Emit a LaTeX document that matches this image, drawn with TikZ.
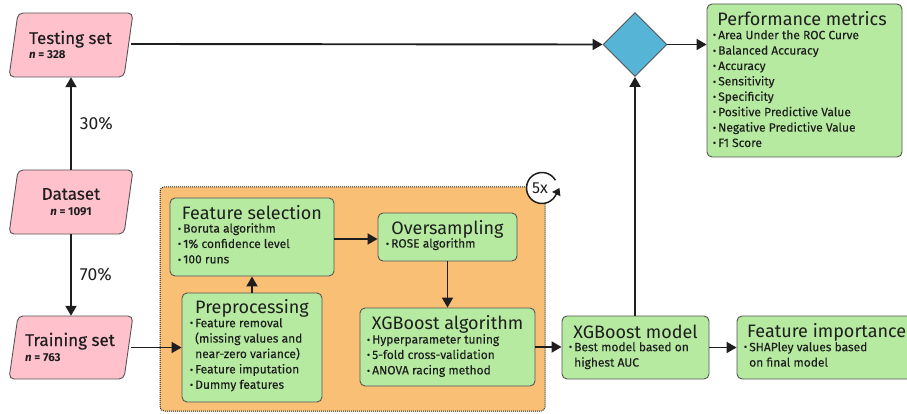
\documentclass[tikz,border=0pt]{standalone}
\usepackage{fontspec}
\setmainfont{Fira Sans}
\newfontfamily\semib[FakeBold=0.4]{Fira Sans}
\newfontfamily\bodyf[FakeBold=0.1]{Fira Sans}
\newfontfamily\djv{DejaVu Sans}
\usetikzlibrary{arrows.meta,shapes.geometric}
\definecolor{pinkfill}{RGB}{255,193,204}
\definecolor{greenfill}{RGB}{181,234,160}
\definecolor{orangefill}{RGB}{249,192,117}
\definecolor{bluefill}{RGB}{86,180,214}
\definecolor{edge}{RGB}{85,85,85}
\definecolor{ink}{RGB}{30,30,30}
\newcommand\bl{{\djv\fontsize{8.5}{8.5}\selectfont\raisebox{0.3pt}{•}}\kern1pt}
\newcommand\ind{\hphantom{\bl}}
\tikzset{
  gbox/.style={draw=edge, line width=0.9pt, fill=greenfill, rounded corners=5pt, inner sep=0pt},
  hole/.style={inner sep=0pt},
  titletext/.style={font=\fontsize{18}{18}\selectfont, inner sep=0pt, text=ink},
  bultext/.style={font=\bodyf\fontsize{12}{15.4}\selectfont, inner sep=0pt, anchor=north west, align=left, text=ink},
  pinktitle/.style={font=\semib\fontsize{17}{17}\selectfont, inner sep=0pt, text=ink},
  ntext/.style={font=\bfseries\fontsize{11.5}{11.5}\selectfont, inner sep=0pt, text=ink},
  pct/.style={font=\fontsize{17.5}{17.5}\selectfont, inner sep=0pt, text=ink},
  conn/.style={draw=ink, line width=1.9pt},
  arr/.style={conn, -{Triangle[length=10pt,width=11pt]}},
  pshape/.style={draw=edge, line width=0.9pt, fill=pinkfill, rounded corners=5pt},
}
\begin{document}
\begin{tikzpicture}[x=1pt,y=-1pt]
\useasboundingbox (0,0) rectangle (907,414);

% orange region
\node[draw=ink, densely dotted, line width=1pt, fill=orangefill, rounded corners=4pt,
      minimum width=385pt, minimum height=224pt, inner sep=0pt] (loop) at (352.5,299) {};
% 5x icon
\coordinate (rc) at (542,188);
\fill[white] (rc) circle[radius=15.5pt];
\draw[ink, line width=1.5pt] ([shift={(30:15.5pt)}]rc) arc[start angle=30,end angle=333,radius=15.5pt] coordinate (arcend);
\draw[ink, line width=1.5pt, -{Triangle[length=7pt,width=9pt]}] (arcend) -- ++(0:0pt) -- ([shift={(63:8pt)}]arcend);
\node[pct, font=\fontsize{16}{16}\selectfont] (five) at (540,188) {5x};

% pink parallelograms
\node[hole, minimum width=124pt, minimum height=64pt] (test) at (71,45) {};
\draw[pshape] (18,13) -- (133,13) -- (124,77) -- (9,77) -- cycle;
\node[pinktitle, anchor=base west] (testt) at (29,44) {Testing set};
\node[ntext, anchor=base west] (testn) at (29,59) {\textit{n} = 328};

\node[hole, minimum width=124pt, minimum height=64pt] (data) at (71,202) {};
\draw[pshape] (18,170) -- (133,170) -- (124,234) -- (9,234) -- cycle;
\node[pinktitle] (datat) at (71,194) {Dataset};
\node[ntext] (datan) at (71,212) {\textit{n} = 1091};

\node[hole, minimum width=124pt, minimum height=63pt] (train) at (71,347.5) {};
\draw[pshape] (18,316) -- (133,316) -- (124,379) -- (9,379) -- cycle;
\node[pinktitle, anchor=base west] (traint) at (25,346) {Training set};
\node[ntext, anchor=base west] (trainn) at (25,361) {\textit{n} = 763};

% green boxes
\node[gbox, minimum width=164pt, minimum height=78pt] (fs) at (252,237) {};
\node[titletext] (fst) at (252,213) {Feature selection};
\node[bultext] (fsb) at (177,223) {\bl Boruta algorithm\\\bl 1\% confidence level\\\bl 100 runs};

\node[gbox, minimum width=140pt, minimum height=109pt] (pre) at (252,347.5) {};
\node[titletext] (pret) at (252,308) {Preprocessing};
\node[bultext] (preb) at (189,318) {\bl Feature removal\\\ind(missing values and\\\ind near-zero variance)\\\bl Feature imputation\\\bl Dummy features};

\node[gbox, minimum width=139pt, minimum height=48pt] (over) at (447.5,237) {};
\node[titletext] (overt) at (447.5,229) {Oversampling};
\node[bultext] (overb) at (385,238) {\bl ROSE algorithm};

\node[gbox, minimum width=175pt, minimum height=78pt] (xga) at (447.5,347) {};
\node[titletext] (xgat) at (447.5,324) {XGBoost algorithm};
\node[bultext] (xgab) at (366,334) {\bl Hyperparameter tuning\\\bl 5-fold cross-validation\\\bl ANOVA racing method};

\node[gbox, minimum width=147pt, minimum height=63pt] (xgm) at (635.5,347.5) {};
\node[titletext] (xgmt) at (635.5,332) {XGBoost model};
\node[bultext] (xgmb) at (568,342) {\bl Best model based on\\\ind highest AUC};

\node[gbox, minimum width=178pt, minimum height=63pt] (fi) at (826,347.5) {};
\node[titletext, anchor=west] (fit) at (747,332) {Feature importance};
\node[bultext] (fib) at (743,342) {\bl SHAPley values based\\\ind on final model};

\node[gbox, minimum width=195pt, minimum height=153pt] (pm) at (804.5,80.5) {};
\node[titletext] (pmt) at (802,19) {Performance metrics};
\node[bultext] (pmb) at (712,30) {\bl Area Under the ROC Curve\\\bl Balanced Accuracy\\\bl Accuracy\\\bl Sensitivity\\\bl Specificity\\\bl Positive Predictive Value\\\bl Negative Predictive Value\\\bl F1 Score};

% diamond
\node[draw=edge, line width=0.9pt, fill=bluefill, diamond, minimum width=64pt, minimum height=64pt, inner sep=0pt] (dec) at (635,44.5) {};

% connectors
\draw[arr] (data.north) -- node[pct, right=8pt] (p30) {30\%} (test.south);
\draw[arr] (data.south) -- node[pct, right=8pt] (p70) {70\%} (train.north);
\draw[arr] (131,44) coordinate (ts) -- (dec.west);
\draw[arr] (dec.east) -- (pm.west |- dec.east);
\draw[arr] (131,347.5) coordinate (trs) -- (pre.west |- trs);
\draw[arr] (pre.north) -- (fs.south -| pre.north);
\draw[arr] (fs.east |- 0,239) -- (over.west |- 0,239);
\draw[arr] (over.south) -- (xga.north);
\draw[arr] (xga.east) -- (xgm.west |- xga.east);
\draw[arr] (xgm.east) -- (fi.west |- xgm.east);
\draw[arr] (xgm.north -| dec.south) -- (dec.south);
\end{tikzpicture}
\end{document}
